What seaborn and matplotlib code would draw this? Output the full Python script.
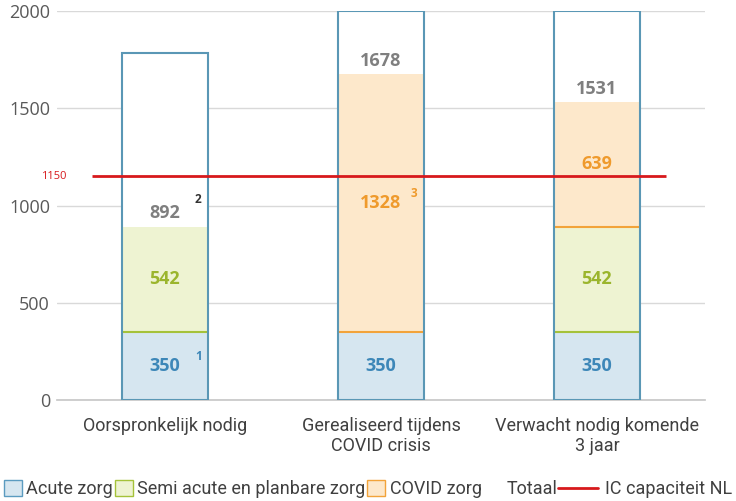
import numpy as np
import pandas as pd
import matplotlib
matplotlib.use("Agg")
import matplotlib.pyplot as plt
import seaborn as sns
from matplotlib.patches import Patch
from matplotlib.lines import Line2D

# data
categories = ["Oorspronkelijk nodig", "Gerealiseerd tijdens\nCOVID crisis", "Verwacht nodig komende\n3 jaar"]
acute = [350, 350, 350]
semi = [542, 0, 542]
covid = [0, 1328, 639]
totaal = [892, 1678, 1531]
ic_capacity = 1150
footnotes = {("acute", 0): "1", ("totaal", 0): "2", ("covid", 1): "3"}

Y_MAX = 2000

df = pd.DataFrame({"cat": categories, "acute": acute, "semi": semi, "covid": covid, "totaal": totaal})
df["semi_bottom"] = df["acute"]
df["covid_bottom"] = df["acute"] + df["semi"]
# Totaal series is stacked on top of the stack; clipped by the axis max
df["totaal_vis"] = np.minimum(df["totaal"], Y_MAX - df["totaal"])

sns.set_theme(style="white")
plt.rcParams["font.family"] = ["Roboto", "DejaVu Sans"]

fill = {"acute": "#d6e6f0", "semi": "#eef3d2", "covid": "#fde8cb"}
edge = {"acute": "#5b9bc0", "semi": "#a5c23a", "covid": "#f2a33a"}
txt = {"acute": "#3d87b8", "semi": "#9bb52d", "covid": "#ef9a2c", "totaal": "#7f7f7f"}
outline = "#5a97b5"
red = "#d7191c"
BAR_W = 0.4
NUM_FONT = "Open Sans"

fig = plt.figure(figsize=(7.36, 5.01), dpi=100)
ax = fig.add_axes([0.0774, 0.2016, 0.8804, 0.776])

# Totaal (white block above the stack)
sns.barplot(data=df, x="cat", y="totaal_vis", bottom=df["totaal"], color="white",
            width=BAR_W, saturation=1, edgecolor="none", linewidth=0, ax=ax, zorder=2)
sns.barplot(data=df, x="cat", y="acute", color=fill["acute"], width=BAR_W, saturation=1,
            edgecolor="none", linewidth=0, ax=ax, zorder=2)
sns.barplot(data=df, x="cat", y="semi", bottom=df["semi_bottom"], color=fill["semi"],
            width=BAR_W, saturation=1, edgecolor="none", linewidth=0, ax=ax, zorder=2)
sns.barplot(data=df, x="cat", y="covid", bottom=df["covid_bottom"], color=fill["covid"],
            width=BAR_W, saturation=1, edgecolor="none", linewidth=0, ax=ax, zorder=2)

for p in ax.patches:
    if p.get_height() == 0:
        p.set_visible(False)

# segment borders (line at the base of each upper segment)
xs = np.arange(len(categories))
for key in ["semi", "covid"]:
    vals = df[key].to_numpy()
    bots = df[f"{key}_bottom"].to_numpy()
    m = vals > 0
    ax.hlines(bots[m], xs[m] - BAR_W / 2, xs[m] + BAR_W / 2, color=edge[key], linewidth=1.5, zorder=2.5)

# outer outline over the whole column
df["outline_h"] = df["totaal"] + df["totaal_vis"]
sns.barplot(data=df, x="cat", y="outline_h", fill=False, width=BAR_W, saturation=1,
            edgecolor=outline, linewidth=1.5, ax=ax, zorder=3)

# value labels
lab_kw = dict(fontsize=13, fontweight="bold", family=NUM_FONT, zorder=5)
for i, row in df.iterrows():
    ax.text(i, row["acute"] / 2, str(row["acute"]), ha="center", va="center",
            color=txt["acute"], **lab_kw)
    if row["semi"]:
        ax.text(i, row["semi_bottom"] + row["semi"] / 2, str(row["semi"]), ha="center", va="center",
                color=txt["semi"], **lab_kw)
    if row["covid"]:
        ax.text(i, row["covid_bottom"] + row["covid"] / 2, str(row["covid"]), ha="center", va="center",
                color=txt["covid"], **lab_kw)
    ax.annotate(str(row["totaal"]), (i, row["totaal"]), xytext=(0, 3), textcoords="offset points",
                ha="center", va="bottom", color=txt["totaal"], **lab_kw)

# footnote markers
note_pos = {"acute": lambda r: r["acute"] / 2,
            "covid": lambda r: r["covid_bottom"] + r["covid"] / 2,
            "totaal": lambda r: r["totaal"] + 90}
note_col = {"acute": txt["acute"], "covid": txt["covid"], "totaal": "#333333"}
for (series, i), mark in footnotes.items():
    ax.annotate(mark, (i, note_pos[series](df.loc[i])), xytext=(24, 7), textcoords="offset points",
                ha="center", va="center", color=note_col[series], fontsize=8.5,
                fontweight="bold", family=NUM_FONT, zorder=5)

# IC capacity line
ax.hlines(ic_capacity, -0.338, 2.32, color=red, linewidth=2, zorder=4)
ax.text(-0.514, ic_capacity, str(ic_capacity), color=red, fontsize=8, ha="center",
        va="center", family=NUM_FONT, clip_on=False)

ax.set_xlim(-0.5, 2.5)
ax.set_ylim(0, Y_MAX)
ax.set_yticks([0, 500, 1000, 1500, 2000])
ax.yaxis.grid(True, color="#d9d9d9", linewidth=1, zorder=0)
ax.set_axisbelow(True)
ax.set_xlabel("")
ax.set_ylabel("")
for s in ["top", "right", "left"]:
    ax.spines[s].set_visible(False)
ax.spines["bottom"].set_color("#c8c8c8")
ax.tick_params(axis="y", length=0, labelsize=13, labelcolor="#595959", pad=5)
ax.tick_params(axis="x", which="major", length=0, labelsize=13, labelcolor="#404040", pad=12)
ax.set_xticks([-0.5, 0.5, 1.5, 2.5], minor=True)
ax.tick_params(axis="x", which="minor", length=5, color="#c8c8c8", width=1)
for lab in ax.get_yticklabels():
    lab.set_family(NUM_FONT)

# legend
hs = [Patch(facecolor=fill[k], edgecolor=edge[k], linewidth=1) for k in ["acute", "semi", "covid"]]
hs.append(Patch(facecolor="none", edgecolor="none"))
leg1 = fig.legend(hs, ["Acute zorg", "Semi acute en planbare zorg", "COVID zorg", "Totaal"],
                  loc="center left", bbox_to_anchor=(0.0, 0.024), ncol=4, frameon=False,
                  fontsize=13, handlelength=1.0, handleheight=1.0, handletextpad=0.25,
                  columnspacing=0.1, borderpad=0, borderaxespad=0.2, labelcolor="#404040")
leg2 = fig.legend([Line2D([0], [0], color=red, linewidth=2)], ["IC capaciteit NL"],
                  loc="center right", bbox_to_anchor=(1.0, 0.024), frameon=False,
                  fontsize=13, handlelength=2.2, handletextpad=0.4, borderpad=0,
                  borderaxespad=0.2, labelcolor="#404040")

fig.savefig("out.png", dpi=100)
